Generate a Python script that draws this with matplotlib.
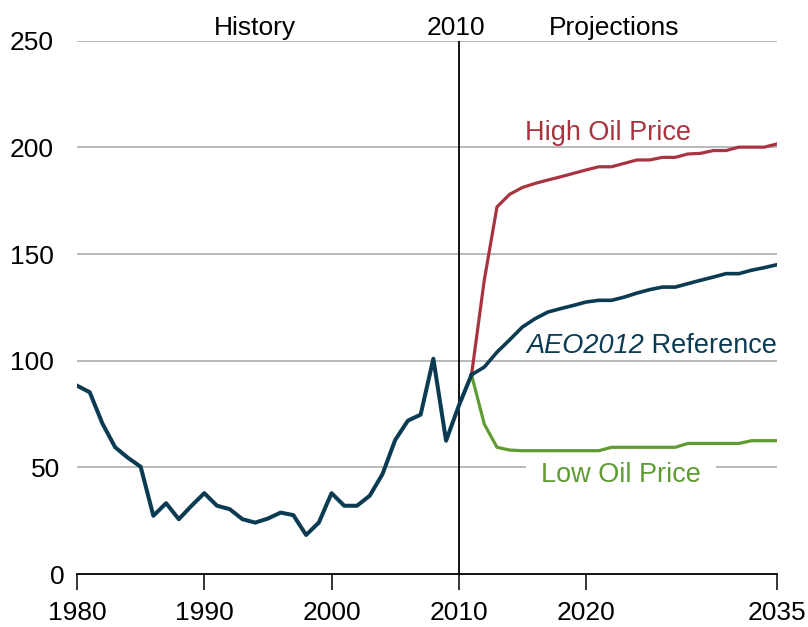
import matplotlib.pyplot as plt
import matplotlib.transforms as mtransforms

# history 1980-2011
hist_years = list(range(1980, 2012))
hist_price = [88.3, 85.2, 70.5, 59.4, 54.5, 50.3, 27.3, 33.2, 25.7, 32.0,
              37.9, 32.0, 30.4, 25.7, 24.1, 26.0, 28.8, 27.6, 18.3, 24.1,
              37.9, 32.0, 32.0, 36.7, 46.8, 62.8, 71.9, 74.7, 100.9, 62.5,
              78.9, 93.4]

# projections 2011-2035
proj_years = list(range(2011, 2036))
reference = [93.4, 97.0, 104.0, 109.8, 115.8, 119.7, 122.8, 124.4, 125.9, 127.5,
             128.3, 128.3, 129.8, 131.7, 133.3, 134.5, 134.5, 136.1, 137.7, 139.2,
             140.8, 140.8, 142.4, 143.6, 145.0]
high_oil = [93.4, 137.7, 172.1, 178.0, 181.2, 183.1, 184.7, 186.2, 187.8, 189.4,
            190.9, 190.9, 192.5, 194.1, 194.1, 195.3, 195.3, 196.9, 197.2, 198.5,
            198.5, 200.1, 200.1, 200.1, 201.6]
low_oil = [93.4, 70.3, 59.4, 58.1, 57.8, 57.8, 57.8, 57.8, 57.8, 57.8,
           57.8, 59.4, 59.4, 59.4, 59.4, 59.4, 59.4, 61.2, 61.2, 61.2,
           61.2, 61.2, 62.5, 62.5, 62.5]

x_ticks = [1980, 1990, 2000, 2010, 2020, 2035]
y_ticks = [0, 50, 100, 150, 200, 250]

navy = '#0a3b53'
red = '#a8343f'
green = '#5f9b32'

plt.rcParams['font.family'] = ['Liberation Sans', 'DejaVu Sans']

fig = plt.figure(figsize=(8.08, 6.27), dpi=100)
ax = fig.add_axes([0.0953, 0.0845, 0.8663, 0.8506])

for y in y_ticks[1:]:
    ax.axhline(y, color='#a6a6a6', lw=1.1, zorder=1)

ax.axvline(2010, color='black', lw=1.3, zorder=2)

ax.plot(proj_years, high_oil, color=red, lw=2.3, zorder=3)
ax.plot(proj_years, low_oil, color=green, lw=2.3, zorder=3)
ax.plot(proj_years, reference, color=navy, lw=2.6, zorder=4)
ax.plot(hist_years, hist_price, color=navy, lw=2.9, zorder=4)

ax.set_xlim(1980, 2035)
ax.set_ylim(0, 250)
ax.set_xticks(x_ticks)
ax.set_xticklabels([str(t) for t in x_ticks], fontsize=19)
ax.set_yticks(y_ticks)
ax.set_yticklabels([str(t) for t in y_ticks], fontsize=19)
ax.tick_params(axis='x', direction='out', length=11.5, width=1.1, pad=8)
ax.tick_params(axis='y', length=0, pad=17)

# the small y labels sit a bit further right in the original
shifts = {'50': 7, '0': 11}
for lab in ax.get_yticklabels():
    dx = shifts.get(lab.get_text(), 0)
    if dx:
        lab.set_transform(lab.get_transform() +
                          mtransforms.ScaledTranslation(dx / 100, 0, fig.dpi_scale_trans))

for s in ['top', 'right', 'left']:
    ax.spines[s].set_visible(False)
ax.spines['bottom'].set_linewidth(1.3)

ax.text(2021.76, 203.5, 'High Oil Price', color=red, fontsize=19.5,
        ha='center', va='baseline')

# AEO2012 in italics, then "Reference" in roman right after it
aeo = ax.text(2015.3, 103.5, 'AEO2012', color=navy, fontsize=19.5,
              style='italic', ha='left', va='baseline')
ax.annotate(' Reference', xy=(1, 0), xycoords=aeo, color=navy, fontsize=19.5,
            ha='left', va='bottom')

ax.text(2022.74, 43.0, 'Low Oil Price', color=green, fontsize=19.5,
        ha='center', va='baseline', zorder=2.5,
        bbox=dict(facecolor='white', edgecolor='none', pad=11))

ax.text(1994.0, 252.7, 'History', fontsize=19, ha='center', va='baseline')
ax.text(2009.8, 252.7, '2010', fontsize=19, ha='center', va='baseline')
ax.text(2022.2, 252.7, 'Projections', fontsize=19, ha='center', va='baseline')

fig.savefig('out.png', dpi=100)
